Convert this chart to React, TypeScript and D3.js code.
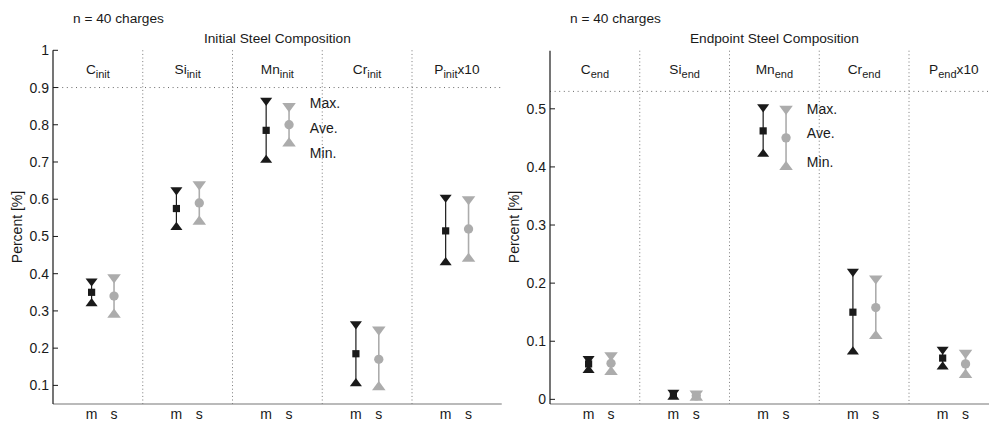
import React from 'react';
import * as d3 from 'd3';

// element names and the subscript / suffix used in the header of each group
const elements = ['C', 'Si', 'Mn', 'Cr', 'P'];
const suffix = ['', '', '', '', 'x10'];

// initial composition, measured (m) and simulated (s)
const initMMax = [0.38, 0.625, 0.865, 0.265, 0.605];
const initMAve = [0.35, 0.575, 0.785, 0.185, 0.515];
const initMMin = [0.32, 0.525, 0.705, 0.105, 0.43];
const initSMax = [0.39, 0.64, 0.85, 0.25, 0.60];
const initSAve = [0.34, 0.59, 0.80, 0.17, 0.52];
const initSMin = [0.29, 0.54, 0.75, 0.095, 0.44];

// endpoint composition
const endMMax = [0.07, 0.012, 0.503, 0.22, 0.086];
const endMAve = [0.061, 0.008, 0.462, 0.15, 0.071];
const endMMin = [0.05, 0.004, 0.422, 0.082, 0.056];
const endSMax = [0.076, 0.01, 0.50, 0.208, 0.08];
const endSAve = [0.062, 0.006, 0.45, 0.158, 0.061];
const endSMin = [0.047, 0.003, 0.40, 0.109, 0.042];

const initTicks = [0.1, 0.2, 0.3, 0.4, 0.5, 0.6, 0.7, 0.8, 0.9, 1];
const endTicks = [0, 0.1, 0.2, 0.3, 0.4, 0.5];

const legendLabels = ['Max.', 'Ave.', 'Min.'];
const initLegendY = [0.858, 0.79, 0.724];
const endLegendY = [0.4995, 0.458, 0.409];

const BLACK = '#1a1a1a';
const GRAY = '#acacac';
const FONT = 'Liberation Sans, Arial, sans-serif';

const tri = d3.symbol().type(d3.symbolTriangle).size(48)();
const sq = d3.symbol().type(d3.symbolSquare).size(52)();
const circ = d3.symbol().type(d3.symbolCircle).size(68)();

type PanelProps = {
  left: number;
  yDomain: [number, number];
  yTop: number;
  ticks: number[];
  refLine: number;
  title: string;
  sub: string;
  mMax: number[]; mAve: number[]; mMin: number[];
  sMax: number[]; sAve: number[]; sMin: number[];
  legendY: number[];
};

function Panel(p: PanelProps) {
  const x = d3.scaleLinear().domain([0, 5]).range([p.left, p.left + 448.75]);
  const y = d3.scaleLinear().domain(p.yDomain).range([404, p.yTop]);
  const bottom = y(p.yDomain[0]);
  const top = y(p.yDomain[1]);
  // first group sits slightly further right than the others
  const mOff = (i: number) => (i === 0 ? 0.43 : 0.375);
  const sOff = (i: number) => (i === 0 ? 0.68 : 0.63);

  const series = [
    { off: mOff, max: p.mMax, ave: p.mAve, min: p.mMin, color: BLACK, aveShape: sq, scale: 1, lw: 1.2, label: 'm' },
    { off: sOff, max: p.sMax, ave: p.sAve, min: p.sMin, color: GRAY, aveShape: circ, scale: 1.12, lw: 1.6, label: 's' },
  ];

  return (
    <g fontFamily={FONT} fontSize={13.7} fill={BLACK}>
      <text x={p.left + 20} y={23}>n = 40 charges</text>
      <text x={x(2.5)} y={42.5} textAnchor="middle">{p.title}</text>

      {/* group separators */}
      {[1, 2, 3, 4].map(i => (
        <line key={i} x1={x(i)} x2={x(i)} y1={top} y2={bottom}
          stroke="#7a7a7a" strokeWidth={1} strokeDasharray="1,2.6" />
      ))}
      <line x1={x(0)} x2={x(5)} y1={y(p.refLine)} y2={y(p.refLine)}
        stroke="#6a6a6a" strokeWidth={1} strokeDasharray="1,3.6" />

      {/* group headers */}
      {elements.map((el, i) => (
        <text key={el} x={x(i + 0.5)} y={74} textAnchor="middle">
          {el}
          <tspan fontSize={11} dy={4}>{p.sub}</tspan>
          {suffix[i] && <tspan dy={-4}>{suffix[i]}</tspan>}
        </text>
      ))}

      {/* axes */}
      <line x1={x(0)} x2={x(5)} y1={bottom} y2={bottom} stroke="#777" strokeWidth={1.2} />
      <line x1={x(0)} x2={x(0)} y1={top} y2={bottom} stroke={BLACK} strokeWidth={1.2} />
      {p.ticks.map(t => (
        <g key={t}>
          <line x1={x(0)} x2={x(0) + 5} y1={y(t)} y2={y(t)} stroke={BLACK} strokeWidth={1} />
          <text x={x(0) - 4} y={y(t)} fontSize={14} textAnchor="end" dominantBaseline="central">{d3.format('~g')(t)}</text>
        </g>
      ))}
      <text transform={`translate(${p.left - 36},227) rotate(-90)`} fontSize={14} textAnchor="middle" dominantBaseline="central">
        Percent [%]
      </text>

      {/* min / ave / max markers */}
      {series.map(s => elements.map((el, i) => {
        const cx = x(i + s.off(i));
        return (
          <g key={s.label + el} fill={s.color}>
            <line x1={cx} x2={cx} y1={y(s.max[i])} y2={y(s.min[i])} stroke={s.color} strokeWidth={s.lw} />
            <path d={tri} transform={`translate(${cx},${y(s.max[i])}) rotate(180) scale(${1.15 * s.scale},${0.9 * s.scale})`} />
            <path d={tri} transform={`translate(${cx},${y(s.min[i])}) scale(${1.15 * s.scale},${0.9 * s.scale})`} />
            <path d={s.aveShape} transform={`translate(${cx},${y(s.ave[i])})`} />
            <text x={cx} y={419} fontSize={14} textAnchor="middle" fill={BLACK}>{s.label}</text>
          </g>
        );
      }))}

      {legendLabels.map((l, k) => (
        <text key={l} x={x(2.862)} y={y(p.legendY[k])} fontSize={14} dominantBaseline="central">{l}</text>
      ))}
    </g>
  );
}

export default function App() {
  return (
    <svg width={989} height={425} style={{ position: 'absolute', left: 0, top: 0, background: '#fff' }}>
      <Panel left={53} yDomain={[0.05, 1]} yTop={50.3} ticks={initTicks} refLine={0.9}
        title="Initial Steel Composition" sub="init"
        mMax={initMMax} mAve={initMAve} mMin={initMMin}
        sMax={initSMax} sAve={initSAve} sMin={initSMin} legendY={initLegendY} />
      <Panel left={550} yDomain={[-0.008, 0.6]} yTop={50.7} ticks={endTicks} refLine={0.53}
        title="Endpoint Steel Composition" sub="end"
        mMax={endMMax} mAve={endMAve} mMin={endMMin}
        sMax={endSMax} sAve={endSAve} sMin={endSMin} legendY={endLegendY} />
    </svg>
  );
}
